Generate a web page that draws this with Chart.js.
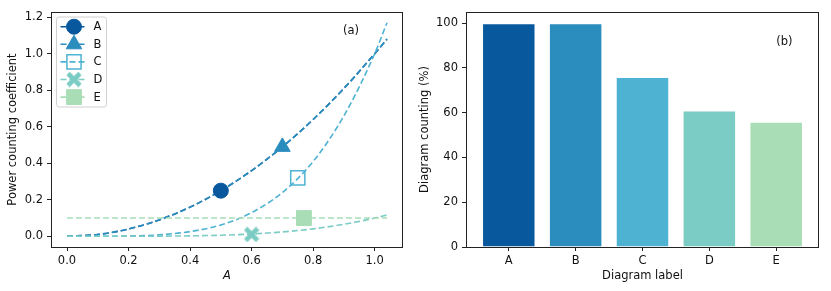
<!DOCTYPE html>
<html>
<head>
<meta charset="utf-8">
<script src="https://cdn.jsdelivr.net/npm/chart.js@4/dist/chart.umd.min.js"></script>
<style>
  body { margin: 0; background: #fff; }
  #left { position: absolute; left: 0; top: 0; }
  #right { position: absolute; left: 415px; top: 0; }
</style>
</head>
<body>
<canvas id="left" width="415" height="291"></canvas>
<canvas id="right" width="416" height="291"></canvas>
<script>
// ---- data ----
const seriesNames = ['A', 'B', 'C', 'D', 'E'];
const seriesColors = ['#08589e', '#2b8cbe', '#4eb3d3', '#7bccc4', '#a8ddb5'];

const curveX = [0, 0.1, 0.2, 0.3, 0.4, 0.5, 0.6, 0.7, 0.8, 0.9, 1.0, 1.04];
const curveA = [0, 0.01, 0.04, 0.09, 0.16, 0.25, 0.36, 0.49, 0.64, 0.81, 1.0, 1.08];
const curveB = [0, 0.01, 0.04, 0.09, 0.16, 0.25, 0.36, 0.49, 0.64, 0.81, 1.0, 1.08];
const curveC = [0, 0.0001, 0.0016, 0.0081, 0.026, 0.062, 0.13, 0.24, 0.41, 0.66, 1.0, 1.17];
const curveD = [0, 0, 0.0002, 0.0008, 0.0026, 0.006, 0.013, 0.024, 0.041, 0.066, 0.10, 0.117];
const curveE = [0.1, 0.1, 0.1, 0.1, 0.1, 0.1, 0.1, 0.1, 0.1, 0.1, 0.1, 0.1];

const markerX = [0.5, 0.7, 0.75, 0.6, 0.77];
const markerY = [0.25, 0.49, 0.32, 0.01, 0.10];

const leftXTicks = [0, 0.2, 0.4, 0.6, 0.8, 1.0];
const leftYTicks = [0, 0.2, 0.4, 0.6, 0.8, 1.0, 1.2];

const barLabels = ['A', 'B', 'C', 'D', 'E'];
const barValues = [100, 100, 76, 61, 56];
const rightYTicks = [0, 20, 40, 60, 80, 100];

// ---- look ----
Chart.defaults.font.family = 'DejaVu Sans';
Chart.defaults.font.size = 11.5;
Chart.defaults.color = '#111';

// matplotlib style filled "X" marker
const xMark = document.createElement('canvas');
xMark.width = 16; xMark.height = 16;
(() => {
    const c = xMark.getContext('2d');
    c.strokeStyle = seriesColors[3];
    c.lineWidth = 4.6;
    c.beginPath();
    c.moveTo(2, 2); c.lineTo(14, 14);
    c.moveTo(14, 2); c.lineTo(2, 14);
    c.stroke();
})();

const markerStyles = [
    { pointStyle: 'circle', radius: 7.5, fill: seriesColors[0], borderWidth: 1 },
    { pointStyle: 'triangle', radius: 9, fill: seriesColors[1], borderWidth: 1 },
    { pointStyle: 'rect', radius: 10, fill: 'rgba(0,0,0,0)', borderWidth: 1.5 },
    { pointStyle: xMark, radius: 7, fill: seriesColors[3], borderWidth: 0 },
    { pointStyle: 'rect', radius: 10.5, fill: seriesColors[4], borderWidth: 1 },
];

const frame = {
    id: 'frame',
    afterDraw(chart) {
        const { ctx, chartArea: a } = chart;
        ctx.save();
        ctx.strokeStyle = '#222';
        ctx.lineWidth = 1;
        ctx.strokeRect(Math.round(a.left) + 0.5, Math.round(a.top) + 0.5,
            Math.round(a.right - a.left) - 1, Math.round(a.bottom - a.top));
        ctx.restore();
    }
};

const panelTag = (text, fx, fy) => ({
    id: 'tag',
    afterDraw(chart) {
        const { ctx, chartArea: a } = chart;
        ctx.save();
        ctx.font = '11.5px "DejaVu Sans"';
        ctx.fillStyle = '#111';
        ctx.textAlign = 'center';
        ctx.textBaseline = 'middle';
        ctx.fillText(text, a.left + fx * (a.right - a.left), a.top + fy * (a.bottom - a.top));
        ctx.restore();
    }
});

const mplLegend = {
    id: 'mplLegend',
    afterDraw(chart) {
        const { ctx, chartArea: a } = chart;
        const bx = a.left + 5.5, by = a.top + 5;
        ctx.save();
        ctx.beginPath();
        ctx.roundRect(bx, by, 50, 90, 2.5);
        ctx.fillStyle = 'rgba(255,255,255,0.8)';
        ctx.fill();
        ctx.strokeStyle = '#d0d0d0';
        ctx.lineWidth = 1;
        ctx.stroke();
        seriesNames.forEach((name, i) => {
            const y = by + 9.7 + i * 17.6;
            ctx.strokeStyle = seriesColors[i];
            ctx.lineWidth = 1.6;
            ctx.setLineDash([6, 3]);
            ctx.beginPath();
            ctx.moveTo(bx + 4, y); ctx.lineTo(bx + 31, y);
            ctx.stroke();
            ctx.setLineDash([]);
            const m = markerStyles[i];
            ctx.fillStyle = m.fill;
            ctx.lineWidth = m.borderWidth;
            Chart.helpers.drawPoint(ctx, { pointStyle: m.pointStyle, radius: m.radius, borderWidth: m.borderWidth, rotation: 0 }, bx + 17.5, y);
            ctx.fillStyle = '#111';
            ctx.font = '11.5px "DejaVu Sans"';
            ctx.textBaseline = 'middle';
            ctx.textAlign = 'left';
            ctx.fillText(name, bx + 37, y + 0.5);
        });
        ctx.restore();
    }
};

const tickGrid = { drawOnChartArea: false, drawTicks: true, tickLength: 4, color: '#222', tickWidth: 1 };

// ---- left panel ----
const curves = [curveA, curveB, curveC, curveD, curveE];
const leftDatasets = [];
curves.forEach((ys, i) => {
    leftDatasets.push({
        label: seriesNames[i] + ' curve',
        data: curveX.map((x, k) => ({ x: x, y: ys[k] })),
        showLine: true,
        borderColor: seriesColors[i],
        borderWidth: 1.6,
        borderDash: [6, 3],
        pointRadius: 0,
        cubicInterpolationMode: 'monotone',
        order: 10 - i
    });
});
markerStyles.forEach((m, i) => {
    leftDatasets.push({
        label: seriesNames[i],
        data: [{ x: markerX[i], y: markerY[i] }],
        pointStyle: m.pointStyle,
        pointRadius: m.radius,
        pointBackgroundColor: m.fill,
        pointBorderColor: seriesColors[i],
        pointBorderWidth: m.borderWidth,
        showLine: false,
        order: 0
    });
});

new Chart(document.getElementById('left'), {
    type: 'scatter',
    data: { datasets: leftDatasets },
    options: {
        responsive: false,
        animation: false,
        layout: { padding: { top: 12, right: 12, left: 0, bottom: 0 } },
        plugins: { legend: { display: false }, tooltip: { enabled: false } },
        scales: {
            x: {
                type: 'linear', min: -0.052, max: 1.092,
                afterBuildTicks: s => { s.ticks = leftXTicks.map(v => ({ value: v })); },
                afterFit: s => { s.height = 44; },
                grid: tickGrid,
                border: { display: false },
                ticks: { padding: 3, callback: v => v.toFixed(1) },
                title: { display: true, text: 'A', font: { style: 'italic' }, padding: { bottom: 8 } }
            },
            y: {
                type: 'linear', min: -0.0585, max: 1.2285,
                afterBuildTicks: s => { s.ticks = leftYTicks.map(v => ({ value: v })); },
                afterFit: s => { s.width = 51; },
                grid: tickGrid,
                border: { display: false },
                ticks: { padding: 4, callback: v => v.toFixed(1) },
                title: { display: true, text: 'Power counting coefficient', padding: { top: 6 } }
            }
        }
    },
    plugins: [frame, mplLegend, panelTag('(a)', 0.852, 0.083)]
});

// ---- right panel ----
new Chart(document.getElementById('right'), {
    type: 'bar',
    data: {
        datasets: [{
            label: 'Diagram counting',
            data: barValues.map((v, i) => ({ x: i, y: v })),
            backgroundColor: seriesColors,
            borderColor: 'rgba(255,255,255,0.45)',
            borderWidth: 1,
            barPercentage: 0.8,
            categoryPercentage: 1.0
        }]
    },
    options: {
        responsive: false,
        animation: false,
        layout: { padding: { top: 12, right: 12, left: 0, bottom: 0 } },
        plugins: { legend: { display: false }, tooltip: { enabled: false } },
        scales: {
            x: {
                type: 'linear', min: -0.64, max: 4.64, offset: false,
                afterBuildTicks: s => { s.ticks = barLabels.map((_, i) => ({ value: i })); },
                afterFit: s => { s.height = 44; },
                grid: Object.assign({ offset: false }, tickGrid),
                border: { display: false },
                ticks: { padding: 3, callback: v => barLabels[v] },
                title: { display: true, text: 'Diagram label', padding: { bottom: 8 } }
            },
            y: {
                type: 'linear', min: 0, max: 105,
                afterBuildTicks: s => { s.ticks = rightYTicks.map(v => ({ value: v })); },
                afterFit: s => { s.width = 51; },
                grid: tickGrid,
                border: { display: false },
                ticks: { padding: 4 },
                title: { display: true, text: 'Diagram counting (%)', padding: { top: 3 } }
            }
        }
    },
    plugins: [frame, panelTag('(b)', 0.902, 0.127)]
});
</script>
</body>
</html>
